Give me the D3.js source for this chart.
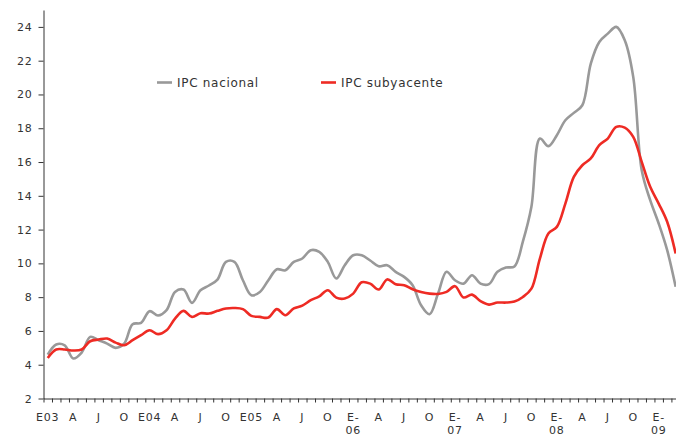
<!DOCTYPE html>
<html><head><meta charset="utf-8">
<script src="https://cdn.jsdelivr.net/npm/d3@7"></script>
<style>
html,body{margin:0;padding:0;background:#fff;overflow:hidden;}
text{font-family:"DejaVu Sans",sans-serif;fill:#333;}
</style></head>
<body>
<svg id="chart" width="676" height="436"></svg>
<script>
// Monthly data, Jan 2003 .. Mar 2009
const months = d3.range(75);
const ipcNacional = [4.6,5.2,5.15,4.37,4.72,5.65,5.45,5.25,5.0,5.25,6.4,6.48,
  7.17,6.91,7.23,8.31,8.45,7.66,8.41,8.69,9.04,10.09,10.09,9.0,
  8.11,8.31,9.0,9.65,9.59,10.09,10.29,10.78,10.68,10.09,9.1,9.89,
  10.48,10.48,10.17,9.83,9.89,9.5,9.2,8.71,7.52,6.99,8.21,9.5,
  9.0,8.8,9.3,8.8,8.77,9.5,9.75,9.82,11.3,13.35,17.39,16.94,
  17.59,18.47,18.91,19.36,21.83,23.11,23.6,24.0,23.21,21.04,15.51,13.74,
  12.36,10.78,8.61];
const ipcSubyacente = [4.4,4.9,4.9,4.84,4.9,5.39,5.49,5.55,5.31,5.15,5.45,5.75,
  6.04,5.81,6.04,6.73,7.19,6.83,7.05,7.03,7.19,7.33,7.36,7.29,
  6.89,6.83,6.79,7.29,6.93,7.33,7.5,7.82,8.05,8.41,7.97,7.92,
  8.21,8.88,8.8,8.45,9.05,8.77,8.71,8.47,8.31,8.21,8.19,8.31,
  8.65,7.98,8.15,7.76,7.56,7.68,7.68,7.74,8.01,8.5,10.28,11.77,
  12.16,13.54,15.12,15.81,16.21,17.0,17.39,18.08,18.04,17.49,16.01,14.53,
  13.54,12.46,10.58];
const xLabels = ["E03","A","J","O","E04","A","J","O","E05","A","J","O",
  "E-|06","A","J","O","E-|07","A","J","O","E-|08","A","J","O","E-|09"];
const yTicks = [2,4,6,8,10,12,14,16,18,20,22,24];
const seriesNames = ["IPC nacional","IPC subyacente"];
const seriesColors = ["#999999","#ee2b24"];

const svg = d3.select("#chart");
const x = d3.scaleLinear().domain([0, 75]).range([43.5, 679.9]);
const y = d3.scaleLinear().domain([2, 25]).range([398.5, 10]);

// Y axis
const yAxis = svg.append("g").attr("transform","translate(43.5,0)")
  .call(d3.axisLeft(y).tickValues(yTicks).tickSize(5).tickSizeOuter(0).tickPadding(6).tickFormat(d3.format("d")));
yAxis.selectAll("path,line").attr("stroke","#333");
yAxis.selectAll("text").style("font-size","11px").style("letter-spacing","0.8px")
  .attr("font-family",null).attr("fill","#333");

// X axis
const xAxis = svg.append("g").attr("transform","translate(0,398.5)")
  .call(d3.axisBottom(x).tickValues(d3.range(0,76)).tickSize(4).tickSizeOuter(0).tickFormat(""));
xAxis.selectAll("path,line").attr("stroke","#333");

const lab = svg.append("g");
xLabels.forEach((t,k)=>{
  const parts = t.split("|");
  const tx = lab.append("text").attr("x", x(k*3+0.5)).attr("y", 420.5)
    .attr("text-anchor","middle").style("font-size","11px").style("letter-spacing","0.8px");
  parts.forEach((p,j)=>{
    tx.append("tspan").attr("x", x(k*3+0.5)).attr("y", 420.5 + j*13).text(p);
  });
});

// Lines
const line = d3.line().x((d,i)=>x(i+0.5)).y(d=>y(d)).curve(d3.curveCatmullRom.alpha(0.5));
[ipcNacional, ipcSubyacente].forEach((s,k)=>{
  svg.append("path").datum(s).attr("d",line).attr("fill","none")
    .attr("stroke",seriesColors[k]).attr("stroke-width",2.6).attr("stroke-linejoin","round");
});

// Legend
const legX = [157, 321];
seriesNames.forEach((n,k)=>{
  svg.append("line").attr("x1",legX[k]).attr("x2",legX[k]+15).attr("y1",82.5).attr("y2",82.5)
    .attr("stroke",seriesColors[k]).attr("stroke-width",2.6);
  svg.append("text").attr("x",legX[k]+20).attr("y",86.5).style("font-size","12px")
    .style("letter-spacing","0.7px").text(n);
});
</script>
</body></html>
